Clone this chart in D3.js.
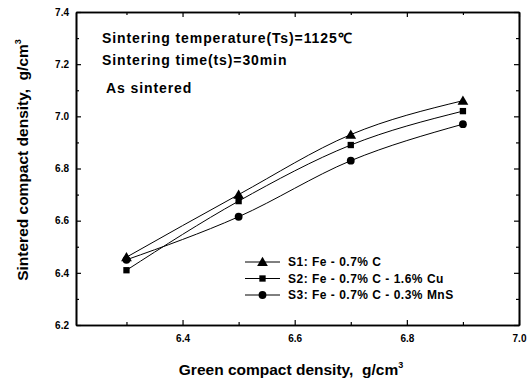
<!DOCTYPE html>
<html>
<head>
<meta charset="utf-8">
<script src="https://cdn.jsdelivr.net/npm/d3@7"></script>
<style>
  body { margin: 0; background: #fff; }
  svg { font-family: "Liberation Sans", Arial, sans-serif; font-weight: bold; }
  svg text { white-space: pre; }
</style>
</head>
<body>
<div id="chart"></div>
<script>
const greenDensity = [6.3, 6.5, 6.7, 6.9];
const s1 = [6.46, 6.70, 6.93, 7.06];
const s2 = [6.41, 6.675, 6.89, 7.02];
const s3 = [6.45, 6.615, 6.83, 6.97];
const seriesNames = ["S1: Fe - 0.7% C", "S2: Fe - 0.7% C - 1.6% Cu", "S3: Fe - 0.7% C - 0.3% MnS"];
const markers = ["triangle", "square", "circle"];
const xTicks = [6.4, 6.6, 6.8, 7.0];
const xMinor = [6.3, 6.5, 6.7, 6.9];
const yTicks = [6.2, 6.4, 6.6, 6.8, 7.0, 7.2, 7.4];
const yMinor = [6.3, 6.5, 6.7, 6.9, 7.1, 7.3];
const notes = ["Sintering temperature(Ts)=1125\u2103", "Sintering time(ts)=30min", "As sintered"];

const width = 531, height = 387;
const margin = { top: 12, right: 12, bottom: 62, left: 76 };

const svg = d3.select("#chart").append("svg")
  .attr("width", width)
  .attr("height", height);

const x = d3.scaleLinear().domain([6.21, 7.0]).range([margin.left, width - margin.right]);
const y = d3.scaleLinear().domain([6.2, 7.4]).range([height - margin.bottom, margin.top]);

const plotBottom = height - margin.bottom, plotTop = margin.top;
const plotLeft = margin.left, plotRight = width - margin.right;

// axes, ticks inward on all four sides
function drawAxis(axisFn, scale, ticks, len, transform, showLabels) {
  const g = svg.append("g")
    .attr("transform", transform)
    .call(axisFn(scale).tickValues(ticks).tickSizeInner(-len).tickSizeOuter(0)
      .tickFormat(showLabels ? d3.format(".1f") : ""));
  g.select(".domain").attr("stroke-width", 1.6);
  g.selectAll(".tick line").attr("stroke-width", 1.2);
  g.selectAll("text").attr("font-size", 10).attr("font-weight", "bold")
    .attr("font-family", "Liberation Sans, Arial, sans-serif").attr("fill", "#000");
  return g;
}

const gx = drawAxis(d3.axisBottom, x, xTicks, 5, `translate(0,${plotBottom})`, true);
gx.selectAll("text").attr("y", 17).attr("dy", 0);
drawAxis(d3.axisBottom, x, xMinor, 3, `translate(0,${plotBottom})`, false);
drawAxis(d3.axisTop, x, xTicks, 5, `translate(0,${plotTop})`, false);
drawAxis(d3.axisTop, x, xMinor, 3, `translate(0,${plotTop})`, false);

const gy = drawAxis(d3.axisLeft, y, yTicks, 5, `translate(${plotLeft},0)`, true);
gy.selectAll("text").attr("x", -7);
drawAxis(d3.axisLeft, y, yMinor, 3, `translate(${plotLeft},0)`, false);
drawAxis(d3.axisRight, y, yTicks, 5, `translate(${plotRight},0)`, false);
drawAxis(d3.axisRight, y, yMinor, 3, `translate(${plotRight},0)`, false);

// axis titles
svg.append("text")
  .attr("x", 291)
  .attr("y", 375)
  .attr("text-anchor", "middle")
  .attr("font-size", 15.5)
  .html('Green compact density,  g/cm<tspan dy="-7" font-size="9">3</tspan>');

svg.append("text")
  .attr("transform", "translate(28,160) rotate(-90)")
  .attr("text-anchor", "middle")
  .attr("font-size", 15.5)
  .html('Sintered compact density,  g/cm<tspan dy="-7" font-size="9">3</tspan>');

// notes
svg.selectAll(".note")
  .data(notes)
  .join("text")
  .attr("class", "note")
  .attr("x", (d, i) => i === 2 ? 106 : 102)
  .attr("y", (d, i) => [43, 65, 93][i])
  .attr("font-size", 14)
  .attr("letter-spacing", 0.9)
  .text(d => d);

// series
const series = [s1, s2, s3].map((vals, i) => ({
  name: seriesNames[i],
  marker: markers[i],
  points: vals.map((v, j) => ({ x: greenDensity[j], y: v }))
}));

const line = d3.line()
  .x(d => x(d.x))
  .y(d => y(d.y))
  .curve(d3.curveMonotoneX);

const symbolType = {
  triangle: d3.symbolTriangle,
  square: d3.symbolSquare,
  circle: d3.symbolCircle
};
const symbolSize = { triangle: 50, square: 40, circle: 48 };

series.forEach(s => {
  svg.append("path")
    .datum(s.points)
    .attr("fill", "none")
    .attr("stroke", "#000")
    .attr("stroke-width", 1)
    .attr("d", line);

  svg.selectAll(null)
    .data(s.points)
    .join("path")
    .attr("transform", d => `translate(${x(d.x)},${y(d.y) + (s.marker === "triangle" ? 1 : 0)})`)
    .attr("d", d3.symbol().type(symbolType[s.marker]).size(symbolSize[s.marker]))
    .attr("fill", "#000");
});

// legend
const legend = svg.append("g").attr("transform", "translate(245,262)");
series.forEach((s, i) => {
  const row = legend.append("g").attr("transform", `translate(0,${i * 16.5})`);
  row.append("line")
    .attr("x1", 0).attr("x2", 35)
    .attr("stroke", "#000").attr("stroke-width", 1);
  row.append("path")
    .attr("transform", `translate(17.5,${s.marker === "triangle" ? 1 : 0})`)
    .attr("d", d3.symbol().type(symbolType[s.marker]).size(symbolSize[s.marker]))
    .attr("fill", "#000");
  row.append("text")
    .attr("x", 43)
    .attr("dy", "0.35em")
    .attr("font-size", 12)
    .attr("letter-spacing", 0.5)
    .text(s.name);
});
</script>
</body>
</html>
